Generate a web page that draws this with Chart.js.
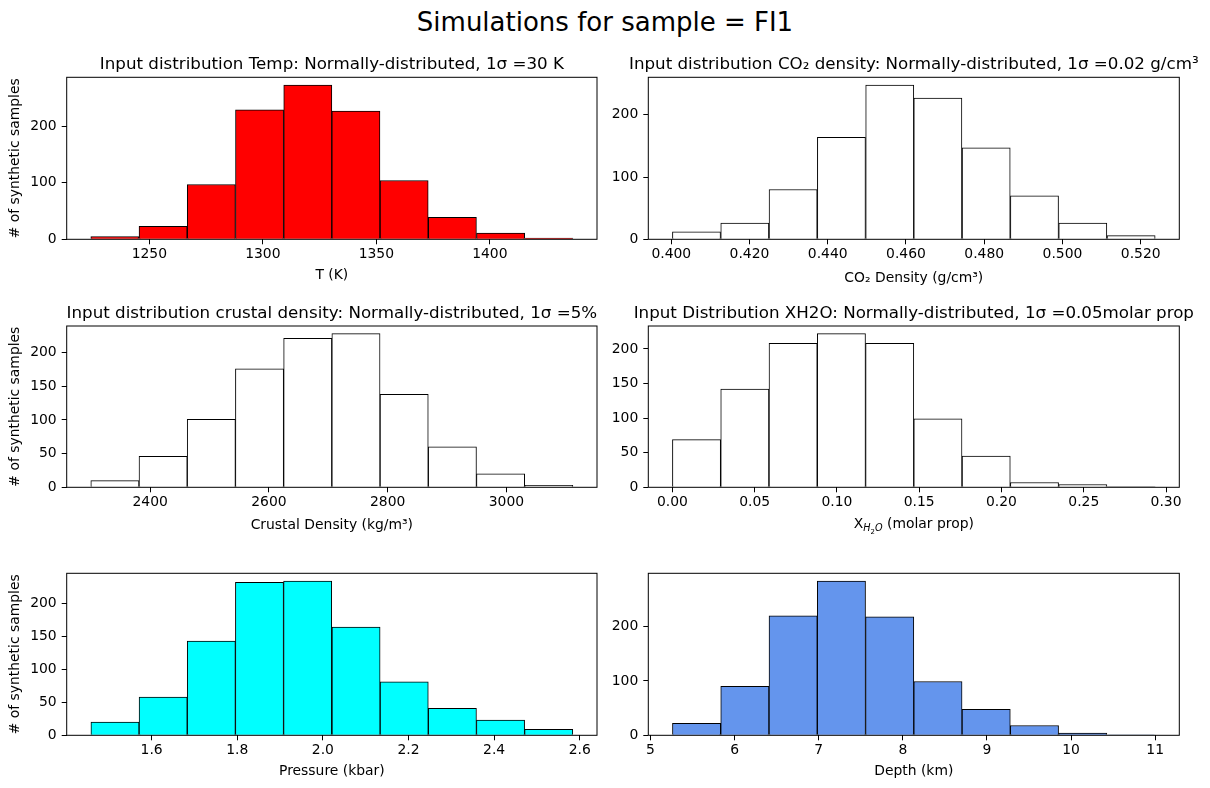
<!DOCTYPE html>
<html lang="en">
<head>
  <meta charset="UTF-8">
  <title>Simulations for sample = FI1</title>
  <script src="https://cdn.jsdelivr.net/npm/chart.js"></script>
  <style>
    body { margin: 0; background: #fff; width: 1210px; height: 788px; position: relative; overflow: hidden;
           font-family: 'DejaVu Sans', sans-serif; }
    #suptitle { position: absolute; left: 0; top: 7px; width: 1210px; text-align: center;
                font-size: 26px; line-height: 30px; color: #000; }
  </style>
</head>
<body>
  <div id="suptitle">Simulations for sample = FI1</div>

  <script>
    // histogram bin edges and counts
    const tempEdges = [1224.2, 1245.4, 1266.7, 1287.9, 1309.2, 1330.4, 1351.6, 1372.9, 1394.1, 1415.4, 1436.6];
    const tempCounts = [5, 23, 97, 229, 273, 227, 104, 39, 11, 2];
    const tempTicks = [1250, 1300, 1350, 1400];

    const co2Edges = [0.4003, 0.4126, 0.4250, 0.4373, 0.4497, 0.4620, 0.4743, 0.4867, 0.4990, 0.5114, 0.5237];
    const co2Counts = [12, 26, 80, 164, 248, 227, 147, 70, 26, 6];
    const co2Ticks = [0.40, 0.42, 0.44, 0.46, 0.48, 0.50, 0.52];

    const crustEdges = [2300, 2381.2, 2462.4, 2543.6, 2624.8, 2706, 2787.2, 2868.4, 2949.6, 3030.8, 3112];
    const crustCounts = [10, 46, 101, 176, 221, 228, 138, 60, 20, 3];
    const crustTicks = [2400, 2600, 2800, 3000];

    const xh2oEdges = [0, 0.0293, 0.0587, 0.0880, 0.1174, 0.1467, 0.1760, 0.2054, 0.2347, 0.2641, 0.2934];
    const xh2oCounts = [69, 142, 208, 222, 208, 99, 45, 7, 4, 1];
    const xh2oTicks = [0, 0.05, 0.10, 0.15, 0.20, 0.25, 0.30];

    const pressEdges = [1.458, 1.571, 1.683, 1.796, 1.908, 2.021, 2.134, 2.246, 2.359, 2.471, 2.584];
    const pressCounts = [20, 58, 143, 232, 234, 164, 81, 41, 23, 9];
    const pressTicks = [1.6, 1.8, 2.0, 2.2, 2.4, 2.6];

    const depthEdges = [5.261, 5.835, 6.409, 6.983, 7.557, 8.131, 8.704, 9.278, 9.852, 10.426, 11.0];
    const depthCounts = [22, 90, 220, 284, 218, 99, 48, 18, 4, 1];
    const depthTicks = [5, 6, 7, 8, 9, 10, 11];

    const countTicks100 = [0, 100, 200];
    const countTicks50 = [0, 50, 100, 150, 200];

    // axes frames (pixels) for the 3x2 grid
    const colLeft = [66.7, 648.3], colRight = [597, 1179.3];
    const rowTop = [77.3, 326, 573.3], rowBottom = [239.3, 487.3, 735.3];

    const FONT = 'DejaVu Sans';
    const SMALL = 13.9;
    Chart.defaults.font.family = FONT;
    Chart.defaults.color = '#000';

    // full box around the plot area, like matplotlib spines
    const framePlugin = {
      id: 'frame',
      afterDraw(chart) {
        const { ctx, chartArea: a } = chart;
        ctx.save();
        ctx.strokeStyle = '#000';
        ctx.lineWidth = 1;
        ctx.strokeRect(a.left, a.top, a.right - a.left, a.bottom - a.top);
        ctx.restore();
      }
    };

    // panel title centred over the plot area (may be wider than it)
    const titlePlugin = {
      id: 'panelTitle',
      afterDraw(chart, args, opts) {
        if (!opts.text) return;
        const { ctx, chartArea: a } = chart;
        ctx.save();
        ctx.font = `16.7px "${FONT}"`;
        ctx.fillStyle = '#000';
        ctx.textAlign = 'center';
        ctx.textBaseline = 'alphabetic';
        ctx.fillText(opts.text, (a.left + a.right) / 2, a.top - 8);
        ctx.restore();
      }
    };

    // x label with sub/subsub scripts (X_{H2O})
    const richXPlugin = {
      id: 'richX',
      afterDraw(chart, args, opts) {
        if (!opts.parts) return;
        const { ctx, chartArea: a } = chart;
        ctx.save();
        ctx.fillStyle = '#000';
        ctx.textBaseline = 'alphabetic';
        ctx.textAlign = 'left';
        const fontOf = p => `${p[3] ? 'italic ' : ''}${p[1]}px "${FONT}"`;
        let total = 0;
        opts.parts.forEach(p => { ctx.font = fontOf(p); total += ctx.measureText(p[0]).width; });
        let x = (a.left + a.right) / 2 - total / 2;
        const base = a.bottom + opts.dy;
        opts.parts.forEach(p => {
          ctx.font = fontOf(p);
          ctx.fillText(p[0], x, base + p[2]);
          x += ctx.measureText(p[0]).width;
        });
        ctx.restore();
      }
    };

    const panels = [
      { row: 0, col: 0, edges: tempEdges, counts: tempCounts, xTicks: tempTicks, yTicks: countTicks100, dec: 0,
        color: '#ff0000', title: 'Input distribution Temp: Normally-distributed, 1σ =30 K', xLabel: 'T (K)' },
      { row: 0, col: 1, edges: co2Edges, counts: co2Counts, xTicks: co2Ticks, yTicks: countTicks100, dec: 3,
        color: '#ffffff', title: 'Input distribution CO₂ density: Normally-distributed, 1σ =0.02 g/cm³',
        xLabel: 'CO₂ Density (g/cm³)', xShift: 3 },
      { row: 1, col: 0, edges: crustEdges, counts: crustCounts, xTicks: crustTicks, yTicks: countTicks50, dec: 0,
        color: '#ffffff', title: 'Input distribution crustal density: Normally-distributed, 1σ =5%',
        xLabel: 'Crustal Density (kg/m³)', xShift: 2 },
      { row: 1, col: 1, edges: xh2oEdges, counts: xh2oCounts, xTicks: xh2oTicks, yTicks: countTicks50, dec: 2,
        color: '#ffffff', title: 'Input Distribution XH2O: Normally-distributed, 1σ =0.05molar prop',
        xLabel: '', rich: [['X', SMALL, 0, false], ['H', 9.7, 3, true], ['2', 6.9, 5.5, false], ['O', 9.7, 3, true], [' (molar prop)', SMALL, 0, false]] },
      { row: 2, col: 0, edges: pressEdges, counts: pressCounts, xTicks: pressTicks, yTicks: countTicks50, dec: 1,
        color: '#00ffff', title: '', xLabel: 'Pressure (kbar)' },
      { row: 2, col: 1, edges: depthEdges, counts: depthCounts, xTicks: depthTicks, yTicks: countTicks100, dec: 0,
        color: '#6495ed', title: '', xLabel: 'Depth (km)' }
    ];

    function makePanel(p) {
      const fl = colLeft[p.col], fr = colRight[p.col], ft = rowTop[p.row], fb = rowBottom[p.row];
      const cx = p.col * 605, cy = Math.floor(ft) - 46;
      const ch = Math.ceil(fb) + 52 - cy;
      const xAxisH = 44 + (p.xShift || 0);

      const canvas = document.createElement('canvas');
      canvas.width = 605;
      canvas.height = ch;
      canvas.style.cssText = `position:absolute;left:${cx}px;top:${cy}px;`;
      document.body.appendChild(canvas);

      const lo = p.edges[0], hi = p.edges[p.edges.length - 1], pad = (hi - lo) * 0.05;
      const ymax = Math.max(...p.counts) * 1.05;
      const data = p.counts.map((c, i) => ({ x: (p.edges[i] + p.edges[i + 1]) / 2, y: c }));

      new Chart(canvas, {
        type: 'bar',
        data: {
          datasets: [{
            data: data,
            backgroundColor: p.color,
            borderColor: '#000',
            borderWidth: { top: 1, left: 1, bottom: 0, right: 1 },
            borderSkipped: false,
            barPercentage: 1,
            categoryPercentage: 1
          }]
        },
        options: {
          responsive: false,
          animation: false,
          events: [],
          layout: { padding: { left: 0, top: ft - cy, right: cx + 605 - fr, bottom: cy + ch - fb - xAxisH } },
          plugins: {
            legend: { display: false },
            tooltip: { enabled: false },
            panelTitle: { text: p.title },
            richX: { parts: p.rich, dy: 41 }
          },
          scales: {
            x: {
              type: 'linear',
              offset: false,
              min: lo - pad,
              max: hi + pad,
              afterBuildTicks: s => { s.ticks = p.xTicks.map(v => ({ value: v })); },
              afterFit: s => { s.height = xAxisH; },
              ticks: { padding: 2, color: '#000', font: { size: SMALL }, maxRotation: 0, autoSkip: false,
                       callback: v => Number(v).toFixed(p.dec) },
              grid: { display: true, drawOnChartArea: false, drawTicks: true, tickLength: 5, color: '#000', offset: false },
              border: { display: false },
              title: { display: !!p.xLabel, text: p.xLabel, color: '#000', font: { size: SMALL }, padding: 0 }
            },
            y: {
              type: 'linear',
              min: 0,
              max: ymax,
              afterBuildTicks: s => { s.ticks = p.yTicks.map(v => ({ value: v })); },
              afterFit: s => { s.width = fl - cx; },
              ticks: { padding: 5, color: '#000', font: { size: SMALL }, autoSkip: false },
              grid: { display: true, drawOnChartArea: false, drawTicks: true, tickLength: 5, color: '#000' },
              border: { display: false },
              title: { display: p.col === 0, text: '# of synthetic samples', color: '#000',
                       font: { size: SMALL }, padding: { top: 7, bottom: 0 } }
            }
          }
        },
        plugins: [framePlugin, titlePlugin, richXPlugin]
      });
    }

    panels.forEach(makePanel);
  </script>
</body>
</html>
